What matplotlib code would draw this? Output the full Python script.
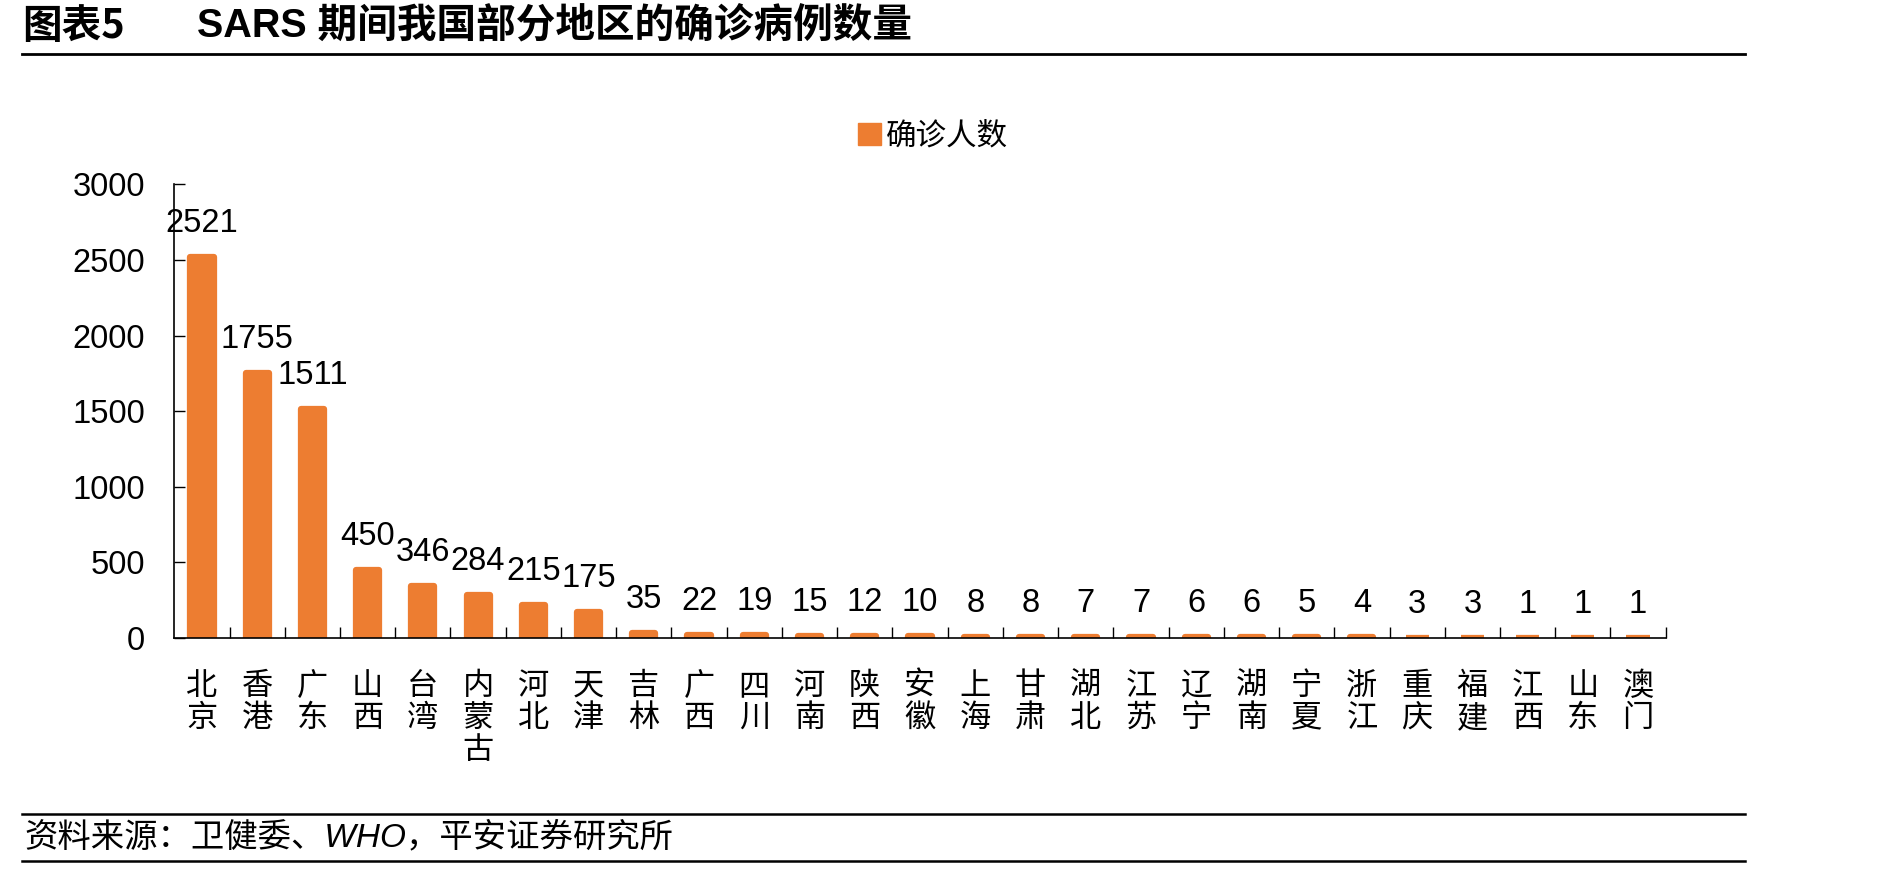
import matplotlib
matplotlib.use("Agg")
import matplotlib.pyplot as plt
from matplotlib.patches import Patch
from matplotlib.lines import Line2D

# data
regions = ["北京", "香港", "广东", "山西", "台湾", "内蒙古", "河北", "天津", "吉林",
           "广西", "四川", "河南", "陕西", "安徽", "上海", "甘肃", "湖北", "江苏",
           "辽宁", "湖南", "宁夏", "浙江", "重庆", "福建", "江西", "山东", "澳门"]
cases = [2521, 1755, 1511, 450, 346, 284, 215, 175, 35,
         22, 19, 15, 12, 10, 8, 8, 7, 7,
         6, 6, 5, 4, 3, 3, 1, 1, 1]
yticks = [0, 500, 1000, 1500, 2000, 2500, 3000]
series_name = "确诊人数"
title_tag = "图表5"
title_text = "SARS 期间我国部分地区的确诊病例数量"
source_text = "资料来源：卫健委、WHO，平安证券研究所"

W, H = 1889, 869
ORANGE = "#ED7D31"
CJK = ["Noto Sans CJK SC", "DejaVu Sans"]
LAT = ["Liberation Sans", "Noto Sans CJK SC"]
plt.rcParams["font.family"] = LAT

fig = plt.figure(figsize=(W / 100, H / 100), dpi=100)
fig.patch.set_facecolor("white")

def fx(px):
    return px / W

def fy(py):
    return 1 - py / H

# header / footer
fig.text(fx(22), fy(26), title_tag, family=CJK, fontsize=28.5, fontweight="bold", va="center", ha="left")
fig.text(fx(197), fy(26), title_text, family=LAT, fontsize=28.5, fontweight="bold", va="center", ha="left")
fig.add_artist(Line2D([fx(22), fx(1745)], [fy(54), fy(54)], color="black", lw=2.0))
fig.add_artist(Line2D([fx(22), fx(1745)], [fy(814), fy(814)], color="black", lw=1.8))
fig.add_artist(Line2D([fx(22), fx(1745)], [fy(861), fy(861)], color="black", lw=1.8))
fig.text(fx(24), fy(838), source_text, family=LAT, fontsize=24, style="italic", va="center", ha="left")

# axes
left, right, top, bottom = 174.3, 1665.7, 184.3, 638
ax = fig.add_axes([fx(left), fy(bottom), fx(right - left), (bottom - top) / H])
x = list(range(len(regions)))
ax.bar(x, cases, width=0.42, color=ORANGE, edgecolor=ORANGE, linewidth=4.5, joinstyle="round", zorder=2)

for xi, v in zip(x, cases):
    ax.annotate(str(v), (xi, v), xytext=(0, 18), textcoords="offset points",
                ha="center", va="baseline", fontsize=23.5, family=LAT)

ax.set_xlim(-0.5, len(regions) - 0.5)
ax.set_ylim(0, 3000)
ax.set_yticks(yticks)
ax.set_yticklabels([str(t) for t in yticks], fontsize=23.5, family=LAT)
ax.tick_params(axis="y", direction="in", length=8, width=1, pad=21)

ax.set_xticks(x)
ax.set_xticklabels(["\n".join(r) for r in regions], family=CJK, fontsize=22.5,
                   linespacing=1.0, va="top")
ax.tick_params(axis="x", which="major", length=0, pad=23)
ax.set_xticks([i + 0.5 for i in x], minor=True)
ax.tick_params(axis="x", which="minor", direction="in", length=8, width=1)

for s in ["top", "right"]:
    ax.spines[s].set_visible(False)
for s in ["left", "bottom"]:
    ax.spines[s].set_linewidth(1.2)
    ax.spines[s].set_zorder(3)

# legend
handle = Patch(facecolor=ORANGE, edgecolor=ORANGE)
leg = fig.legend([handle], [series_name], loc="center",
                 bbox_to_anchor=(fx(933), fy(136)), frameon=False,
                 prop={"family": CJK, "size": 22},
                 handlelength=0.75, handleheight=0.75, handletextpad=0.15,
                 borderpad=0, borderaxespad=0)

fig.savefig("out.png", dpi=100, facecolor="white")
